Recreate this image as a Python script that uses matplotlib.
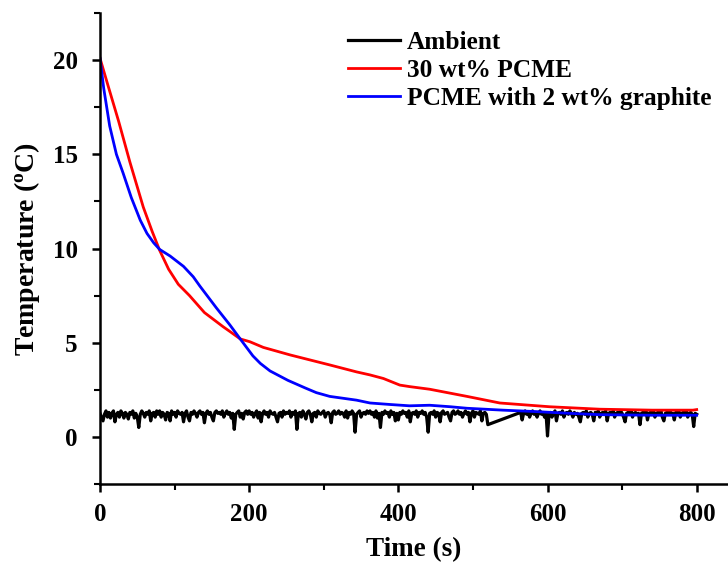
import numpy as np
import matplotlib
matplotlib.use("Agg")
import matplotlib.pyplot as plt
from matplotlib.ticker import MultipleLocator

# ---------------- data ----------------
# Ambient: sampled every 2 s, with a gap between 520 s and 564 s
amb_t1 = np.arange(0, 522, 2)
amb_T1 = [
    1.25, 1.05, 0.85, 1.20, 1.38, 1.05, 1.30, 1.00, 1.25, 1.38, 0.80, 1.20, 1.30, 1.05, 1.38, 1.25, 1.00, 1.30, 1.20, 0.95,
    1.30, 1.20, 1.38, 1.00, 1.25, 1.05, 0.50, 1.20, 1.38, 1.25, 1.05, 1.30, 1.20, 1.38, 0.85, 1.25, 1.30, 1.05, 1.38, 1.20,
    1.38, 1.05, 1.30, 1.20, 0.90, 1.30, 1.25, 0.85, 1.38, 1.20, 1.30, 1.05, 1.38, 1.25, 1.20, 1.30, 0.80, 1.25, 1.38, 1.05,
    0.85, 1.30, 1.20, 1.38, 1.25, 1.05, 1.30, 1.38, 1.20, 1.30, 0.75, 1.25, 1.38, 1.20, 1.30, 1.05, 0.85, 1.30, 1.38, 1.25,
    1.30, 1.20, 1.38, 1.05, 1.25, 1.38, 1.20, 1.30, 1.00, 1.25, 0.40, 1.20, 1.30, 1.38, 1.05, 1.25, 0.95, 1.30, 1.38, 1.20,
    1.38, 1.20, 1.30, 1.05, 1.25, 1.38, 1.00, 1.30, 0.80, 1.25, 1.38, 1.20, 1.30, 1.05, 1.38, 1.25, 1.20, 1.30, 1.05, 0.80,
    1.25, 1.30, 1.05, 1.38, 1.20, 1.30, 1.25, 1.38, 1.05, 1.30, 1.20, 1.38, 0.40, 1.25, 1.30, 1.05, 1.38, 1.20, 0.95, 1.30,
    1.38, 1.20, 0.80, 1.25, 1.30, 1.05, 1.38, 1.25, 1.20, 1.30, 1.38, 1.05, 1.25, 1.30, 1.20, 0.75, 1.30, 1.38, 1.20, 1.25,
    1.38, 1.20, 1.30, 1.25, 1.05, 1.38, 1.00, 1.30, 1.20, 1.38, 1.25, 0.25, 1.20, 1.30, 1.38, 1.05, 1.25, 1.30, 1.20, 1.38,
    1.25, 1.38, 1.20, 1.30, 1.05, 1.38, 1.00, 1.25, 0.50, 1.30, 1.20, 1.38, 1.25, 1.30, 1.05, 1.38, 1.20, 1.30, 0.85, 1.25,
    0.90, 1.30, 1.20, 1.38, 1.25, 1.30, 1.05, 1.38, 0.80, 1.25, 1.30, 1.20, 1.38, 1.05, 1.30, 1.25, 1.38, 1.20, 1.30, 1.05,
    0.25, 1.25, 1.30, 1.20, 1.38, 1.05, 1.30, 1.25, 0.80, 1.30, 1.38, 1.20, 1.25, 1.30, 1.05, 0.85, 1.30, 1.38, 1.20, 1.25,
    1.38, 1.20, 1.30, 1.05, 1.25, 1.38, 1.20, 1.30, 0.80, 1.25, 1.38, 1.05, 1.30, 1.25, 1.20, 1.38, 0.85, 1.25, 1.30, 1.20,
    0.65,
]
amb_t2 = np.arange(564, 802, 2)
amb_T2 = [
    1.30, 0.90, 1.25, 1.38, 1.20, 1.30, 1.05, 1.25, 1.38, 1.20, 1.30, 1.05, 1.25, 1.38, 1.20, 1.30, 1.05, 1.25, 0.05, 1.20,
    1.30, 1.05, 1.25, 1.38, 0.85, 1.25, 1.30, 1.20, 1.38, 1.05, 1.25, 1.30, 1.20, 1.38, 1.25, 1.05, 1.30, 1.20, 1.25, 1.05,
    0.80, 1.25, 1.30, 1.20, 1.38, 1.05, 1.25, 1.30, 1.20, 0.85, 1.30, 1.25, 1.38, 1.05, 1.25, 1.30, 1.20, 1.38, 0.85, 1.25,
    1.30, 1.20, 1.38, 1.05, 1.25, 1.30, 1.20, 1.38, 1.25, 1.05, 0.80, 1.25, 1.30, 1.20, 1.38, 1.05, 1.25, 1.30, 1.20, 1.25,
    0.65, 1.25, 1.30, 1.20, 1.38, 0.90, 1.25, 1.30, 1.20, 1.38, 1.05, 1.25, 1.30, 1.20, 1.38, 1.05, 0.85, 1.25, 1.30, 1.20,
    1.38, 1.20, 1.25, 0.90, 1.30, 1.20, 1.38, 1.05, 1.25, 1.30, 1.20, 1.38, 1.05, 1.25, 1.30, 1.20, 0.55, 1.25, 1.20,
]
amb_t = np.concatenate([amb_t1, amb_t2])
amb_T = np.array(amb_T1 + amb_T2)

pcme_t = [0, 10, 25, 40, 58, 70, 80, 92, 105, 120, 140, 165, 174, 188, 201,
          219, 255, 300, 308, 344, 362, 380, 402, 415, 442, 492, 536, 603,
          670, 740, 795, 800]
pcme_T = [20.1, 18.75, 16.75, 14.6, 12.2, 10.9, 9.9, 8.9, 8.1, 7.5, 6.6, 5.85,
          5.6, 5.2, 5.05, 4.75, 4.35, 3.9, 3.82, 3.45, 3.29, 3.1, 2.75, 2.67,
          2.53, 2.15, 1.8, 1.6, 1.47, 1.42, 1.42, 1.45]

graph_t = [0, 5, 13, 22, 31, 42, 54, 63, 72, 80, 94, 112, 125, 134, 156, 174,
           188, 205, 215, 228, 252, 275, 290, 308, 344, 362, 389, 415, 442,
           470, 492, 540, 581, 630, 670, 740, 800]
graph_T = [20.1, 18.5, 16.5, 15.0, 14.0, 12.7, 11.5, 10.8, 10.3, 9.95, 9.6,
           9.05, 8.5, 8.0, 6.85, 5.95, 5.2, 4.3, 3.9, 3.5, 3.0, 2.6, 2.35,
           2.15, 1.95, 1.8, 1.72, 1.65, 1.68, 1.6, 1.52, 1.42, 1.35, 1.25,
           1.18, 1.15, 1.15]

labels = ["Ambient", "30 wt% PCME", "PCME with 2 wt% graphite"]
colors = ["black", "#ff0000", "#0000ff"]

# ---------------- style ----------------
plt.rcParams['font.family'] = ['Liberation Serif', 'DejaVu Serif']
plt.rcParams['font.weight'] = 'bold'
plt.rcParams['mathtext.fontset'] = 'custom'
plt.rcParams['mathtext.rm'] = 'Liberation Serif:bold'
plt.rcParams['mathtext.it'] = 'Liberation Serif:bold'
plt.rcParams['mathtext.bf'] = 'Liberation Serif:bold'

fig = plt.figure(figsize=(7.28, 5.65), dpi=100)
ax = fig.add_axes([100 / 728, 1 - 484 / 565, 1 - 100 / 728, (484 - 13) / 565])

ax.plot(amb_t, amb_T, color=colors[0], lw=2.3, label=labels[0])
ax.plot(pcme_t, pcme_T, color=colors[1], lw=2.0, label=labels[1])
ax.plot(graph_t, graph_T, color=colors[2], lw=2.0, label=labels[2])

ax.set_xlim(0, 842)
ax.set_ylim(-2.5, 22.5)
ax.xaxis.set_major_locator(MultipleLocator(200))
ax.xaxis.set_minor_locator(MultipleLocator(100))
ax.yaxis.set_major_locator(MultipleLocator(5))
ax.yaxis.set_minor_locator(MultipleLocator(2.5))

for s in ['top', 'right']:
    ax.spines[s].set_visible(False)
for s in ['left', 'bottom']:
    ax.spines[s].set_linewidth(1.8)

ax.tick_params(which='major', direction='out', length=6, width=1.8,
               labelsize=18)
ax.tick_params(axis='y', which='major', pad=10)
ax.tick_params(axis='x', which='major', pad=8)
ax.tick_params(which='minor', direction='out', length=4, width=1.5)
for lab in ax.get_xticklabels() + ax.get_yticklabels():
    lab.set_fontweight('bold')

ax.set_xlabel("Time (s)", fontsize=19.5, fontweight='bold', labelpad=8)
ax.set_ylabel(r"Temperature ($^{\mathrm{o}}$C)", fontsize=20,
              fontweight='bold', labelpad=8)

leg = ax.legend(loc='upper left', bbox_to_anchor=(0.366, 1.0), frameon=False,
                prop={'family': 'Liberation Serif', 'weight': 'bold',
                      'size': 18.3},
                handlelength=2.05, handletextpad=0.28, labelspacing=0.2,
                borderaxespad=0.3)

fig.savefig("out.png", dpi=100)
